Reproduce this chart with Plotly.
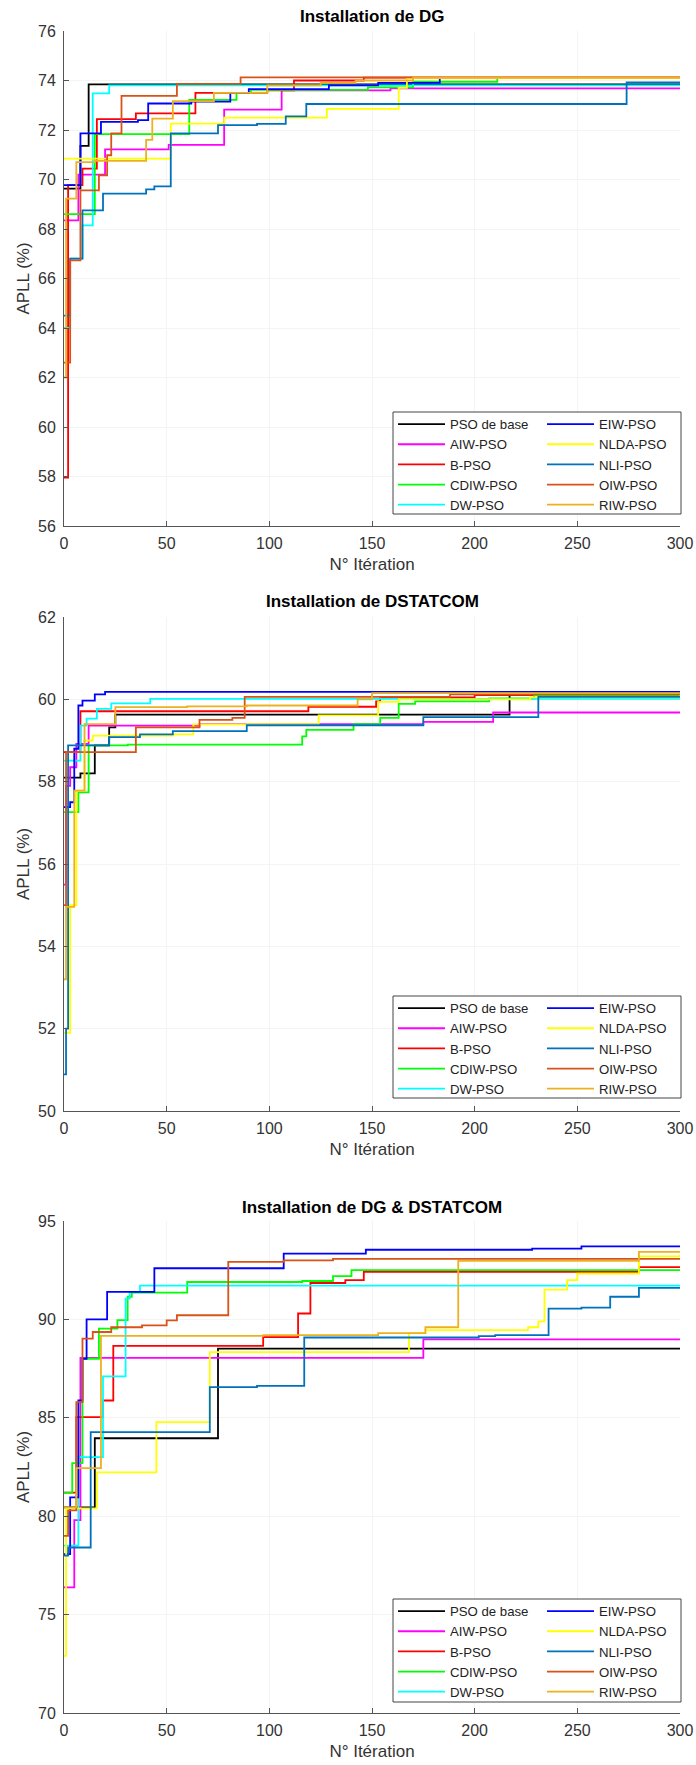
import plotly.graph_objects as go

# ---------------- data ----------------
METHODS = ["PSO de base", "AIW-PSO", "B-PSO", "CDIW-PSO", "DW-PSO",
           "EIW-PSO", "NLDA-PSO", "NLI-PSO", "OIW-PSO", "RIW-PSO"]
COLORS = ["#000000", "#FF00FF", "#FF0000", "#00FF00", "#00FFFF",
          "#0000FF", "#FFFF00", "#0072BD", "#D95319", "#EDB120"]

# Chart 1 : Installation de DG  (iteration where value changes, APLL %)
DG_ITERS = {
    "PSO de base": [0, 8, 12, 300],
    "AIW-PSO": [0, 7, 20, 51, 78, 106, 159, 300],
    "B-PSO": [0, 2, 9, 16, 35, 64, 99, 112, 146, 300],
    "CDIW-PSO": [0, 15, 61, 84, 91, 148, 170, 211, 300],
    "DW-PSO": [0, 3, 9, 14, 22, 300],
    "EIW-PSO": [0, 8, 18, 36, 41, 62, 81, 90, 129, 153, 183, 300],
    "NLDA-PSO": [0, 52, 78, 128, 163, 167, 300],
    "NLI-PSO": [0, 3, 9, 19, 40, 44, 52, 75, 94, 108, 118, 274, 300],
    "OIW-PSO": [0, 3, 8, 17, 21, 23, 28, 55, 86, 300],
    "RIW-PSO": [0, 1, 6, 15, 40, 43, 53, 73, 99, 125, 142, 170, 300],
}
DG_APLL = {
    "PSO de base": [69.63, 71.36, 73.84, 73.84],
    "AIW-PSO": [68.35, 70.2, 71.22, 71.4, 72.82, 73.6, 73.68, 73.68],
    "B-PSO": [57.96, 69.77, 70.44, 72.44, 72.67, 73.5, 73.6, 74.0, 74.12, 74.12],
    "CDIW-PSO": [68.6, 71.83, 73.22, 73.5, 73.62, 73.72, 73.95, 74.1, 74.1],
    "DW-PSO": [64.0, 66.8, 68.15, 73.48, 73.8, 73.8],
    "EIW-PSO": [69.77, 71.86, 72.33, 72.4, 73.07, 73.15, 73.5, 73.65, 73.8, 73.9, 74.1, 74.1],
    "NLDA-PSO": [70.84, 72.26, 72.5, 72.85, 73.7, 74.1, 74.1],
    "NLI-PSO": [64.5, 66.8, 68.75, 69.43, 69.6, 69.72, 71.86, 72.2, 72.25, 72.55, 73.05, 73.92, 73.92],
    "OIW-PSO": [62.6, 66.73, 69.56, 70.17, 70.98, 71.86, 73.38, 73.86, 74.13, 74.13],
    "RIW-PSO": [62.0, 69.23, 70.7, 70.75, 71.6, 72.46, 73.17, 73.5, 73.8, 73.9, 74.0, 74.12, 74.12],
}

# Chart 2 : Installation de DSTATCOM
DST_ITERS = {
    "PSO de base": [0, 8, 15, 22, 25, 217, 300],
    "AIW-PSO": [0, 1, 3, 6, 12, 66, 175, 209, 300],
    "B-PSO": [0, 8, 119, 152, 154, 200, 300],
    "CDIW-PSO": [0, 7, 12, 31, 116, 118, 141, 154, 163, 171, 207, 229, 300],
    "DW-PSO": [0, 8, 11, 16, 23, 42, 300],
    "EIW-PSO": [0, 3, 5, 7, 9, 15, 20, 300],
    "NLDA-PSO": [0, 3, 6, 10, 14, 53, 63, 89, 124, 153, 163, 227, 300],
    "NLI-PSO": [0, 1, 2, 22, 37, 53, 89, 175, 231, 300],
    "OIW-PSO": [0, 1, 35, 66, 82, 88, 188, 300],
    "RIW-PSO": [0, 1, 5, 10, 25, 60, 89, 143, 150, 300],
}
DST_APLL = {
    "PSO de base": [58.1, 58.2, 58.88, 59.32, 59.63, 60.1, 60.1],
    "AIW-PSO": [55.5, 57.9, 58.35, 58.92, 59.36, 59.4, 59.45, 59.68, 59.68],
    "B-PSO": [58.72, 59.71, 59.82, 59.95, 60.05, 60.1, 60.1],
    "CDIW-PSO": [57.26, 57.74, 58.88, 58.9, 59.1, 59.26, 59.4, 59.55, 59.89, 59.95, 60.02, 60.1, 60.1],
    "DW-PSO": [58.51, 59.36, 59.53, 59.77, 59.9, 60.01, 60.01],
    "EIW-PSO": [57.38, 57.5, 58.8, 59.85, 59.97, 60.12, 60.18, 60.18],
    "NLDA-PSO": [51.9, 55.0, 57.78, 59.0, 59.12, 59.15, 59.39, 59.4, 59.61, 59.94, 60.0, 60.05, 60.1],
    "NLI-PSO": [50.89, 52.0, 58.88, 59.08, 59.15, 59.23, 59.37, 59.57, 60.06, 60.06],
    "OIW-PSO": [55.0, 58.72, 59.32, 59.5, 59.55, 60.06, 60.12, 60.12],
    "RIW-PSO": [53.2, 54.96, 57.78, 59.4, 59.81, 59.83, 59.85, 60.0, 60.15, 60.15],
}

# Chart 3 : Installation de DG & DSTATCOM
MIX_ITERS = {
    "PSO de base": [0, 15, 75, 300],
    "AIW-PSO": [0, 5, 8, 175, 300],
    "B-PSO": [0, 6, 19, 24, 97, 114, 120, 137, 146, 280, 300],
    "CDIW-PSO": [0, 4, 9, 17, 26, 31, 33, 60, 116, 131, 140, 300],
    "DW-PSO": [0, 7, 19, 30, 32, 37, 300],
    "EIW-PSO": [0, 3, 7, 9, 11, 21, 44, 107, 147, 228, 252, 300],
    "NLDA-PSO": [0, 1, 16, 45, 71, 168, 176, 226, 231, 234, 245, 250, 280, 300],
    "NLI-PSO": [0, 2, 13, 71, 94, 117, 202, 210, 236, 252, 266, 280, 300],
    "OIW-PSO": [0, 2, 6, 9, 14, 23, 38, 50, 55, 80, 107, 131, 300],
    "RIW-PSO": [0, 6, 18, 97, 153, 176, 192, 280, 300],
}
MIX_APLL = {
    "PSO de base": [80.45, 83.96, 88.52, 88.52],
    "AIW-PSO": [76.38, 79.8, 88.04, 88.99, 88.99],
    "B-PSO": [81.2, 85.03, 85.88, 88.65, 89.1, 90.3, 91.85, 92.0, 92.41, 92.66, 92.66],
    "CDIW-PSO": [81.2, 82.7, 88.0, 89.53, 89.96, 91.15, 91.36, 91.9, 91.95, 92.2, 92.5, 92.5],
    "DW-PSO": [78.5, 83.0, 87.1, 91.06, 91.4, 91.72, 91.72],
    "EIW-PSO": [78.07, 80.96, 85.88, 88.0, 90.0, 91.4, 92.6, 93.34, 93.54, 93.6, 93.71, 93.71],
    "NLDA-PSO": [72.9, 80.4, 82.23, 84.78, 88.34, 89.3, 89.45, 89.6, 89.9, 91.51, 92.0, 92.33, 93.2, 93.3],
    "NLI-PSO": [78.0, 78.41, 84.27, 86.56, 86.62, 89.08, 89.15, 89.2, 90.55, 90.6, 91.15, 91.6, 91.65],
    "OIW-PSO": [79.0, 80.3, 85.8, 89.02, 89.36, 89.6, 89.7, 89.95, 90.21, 92.92, 93.0, 93.08, 93.08],
    "RIW-PSO": [80.45, 82.44, 89.16, 89.2, 89.3, 89.6, 92.97, 93.43, 93.43],
}

TITLES = ["Installation de DG", "Installation de DSTATCOM", "Installation de DG & DSTATCOM"]
Y_RANGES = [[56, 76], [50, 62], [70, 95]]
Y_DTICKS = [2, 2, 5]
X_TICKS = [0, 50, 100, 150, 200, 250, 300]

# ---------------- layout geometry (pixels) ----------------
W, H = 696, 1765
ML, MR = 64, 16
PW = W - ML - MR
PLOT_TOP = [31, 617, 1221]
PLOT_BOT = [526, 1111, 1713]
TITLE_Y = [16, 601, 1207]
LEG_LEFT = 393
LEG_RIGHT = 681
LEG_TOP = [412, 996, 1599]
LEG_BOT = [514, 1098, 1702]
LEG_COL2 = 542
LEG_SHIFT = -3

FONT = "Liberation Sans, Arial, sans-serif"
AX_COL = "#555555"
TXT_COL = "#333333"


def px_x(p):
    return (p - ML) / PW


def px_y(p):
    return 1 - p / H


fig = go.Figure()
datasets = [(DG_ITERS, DG_APLL), (DST_ITERS, DST_APLL), (MIX_ITERS, MIX_APLL)]
col1 = ["PSO de base", "AIW-PSO", "B-PSO", "CDIW-PSO", "DW-PSO"]

for k, (iters, vals) in enumerate(datasets):
    sx = "" if k == 0 else str(k + 1)
    for m, c in zip(METHODS, COLORS):
        leg_idx = 2 * k + (1 if m in col1 else 2)
        leg = "legend" if leg_idx == 1 else f"legend{leg_idx}"
        fig.add_trace(go.Scatter(
            x=iters[m], y=vals[m], mode="lines", name=m,
            line=dict(color=c, width=1.8, shape="hv"),
            xaxis="x" + sx, yaxis="y" + sx, legend=leg, showlegend=True,
        ))

layout = dict(
    width=W, height=H, template="none",
    paper_bgcolor="white", plot_bgcolor="white",
    margin=dict(l=ML, r=MR, t=0, b=0, pad=0),
    font=dict(family=FONT, color=TXT_COL),
    showlegend=True,
)

annotations = []
shapes = []
for k in range(3):
    sx = "" if k == 0 else str(k + 1)
    dom = [px_y(PLOT_BOT[k]), px_y(PLOT_TOP[k])]
    layout["xaxis" + sx] = dict(
        domain=[0, 1], anchor="y" + sx, range=[0, 300], tickvals=X_TICKS,
        ticks="inside", ticklen=5, tickcolor=AX_COL, showline=True,
        linecolor=AX_COL, linewidth=1, mirror=False, showgrid=True,
        gridcolor="#f4f4f4", gridwidth=1, zeroline=False, automargin=False,
        tickfont=dict(size=16, color=TXT_COL), ticklabelstandoff=3,
        title=dict(text="N° Itération", font=dict(size=17, color=TXT_COL), standoff=6),
    )
    lo, hi = Y_RANGES[k]
    layout["yaxis" + sx] = dict(
        domain=dom, anchor="x" + sx, range=[lo, hi], dtick=Y_DTICKS[k], tick0=lo,
        ticks="inside", ticklen=5, tickcolor=AX_COL, showline=True,
        linecolor=AX_COL, linewidth=1, mirror=False, showgrid=True,
        gridcolor="#f4f4f4", gridwidth=1, zeroline=False, automargin=False,
        tickfont=dict(size=16, color=TXT_COL), ticklabelstandoff=4,
        title=dict(text="APLL (%)", font=dict(size=17, color=TXT_COL), standoff=4),
    )
    annotations.append(dict(
        text="<b>" + TITLES[k] + "</b>", xref="paper", yref="paper",
        x=0.5, y=px_y(TITLE_Y[k]), xanchor="center", yanchor="middle",
        showarrow=False, font=dict(size=17, color="#000000", family=FONT),
    ))
    shapes.append(dict(
        type="rect", xref="paper", yref="paper", layer="above",
        x0=px_x(LEG_LEFT), x1=px_x(LEG_RIGHT),
        y0=px_y(LEG_BOT[k]), y1=px_y(LEG_TOP[k]),
        line=dict(color="#444444", width=1), fillcolor="white",
    ))
    for j, lx in enumerate([LEG_LEFT, LEG_COL2]):
        idx = 2 * k + j + 1
        name = "legend" if idx == 1 else f"legend{idx}"
        layout[name] = dict(
            x=px_x(lx), y=px_y(LEG_TOP[k] + LEG_SHIFT), xanchor="left", yanchor="top",
            orientation="v", bgcolor="rgba(0,0,0,0)", borderwidth=0,
            font=dict(size=13.2, color="#222222", family=FONT),
            itemwidth=47, traceorder="normal", tracegroupgap=0,
            itemclick=False, itemdoubleclick=False,
        )

layout["annotations"] = annotations
layout["shapes"] = shapes
fig.update_layout(**layout)

fig.write_html("out.html")
